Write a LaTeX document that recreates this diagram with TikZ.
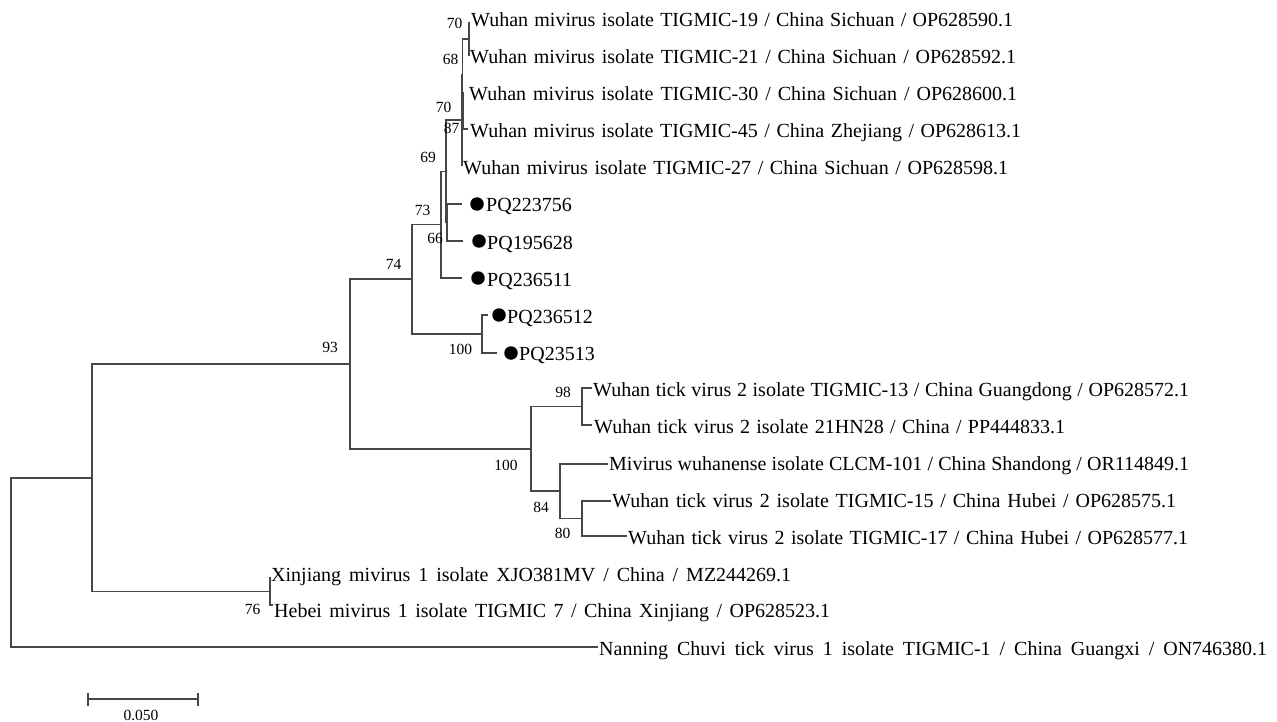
\documentclass[tikz,border=0pt]{standalone}
\usepackage{fontspec}
\setmainfont{Liberation Serif}
\begin{document}
\begin{tikzpicture}[x=1pt,y=-1pt,
  br/.style={line width=1.2pt, draw=black!72},
  leaf/.style={anchor=base west, inner sep=0pt, font=\fontsize{20}{24}\selectfont},
  bs/.style={inner sep=0pt, font=\fontsize{15.5}{18}\selectfont},
  tipdot/.style={circle, fill=black, inner sep=0pt, minimum size=13.5pt}]
\useasboundingbox (0,0) rectangle (1277,722);
% internal nodes
\coordinate (R) at (11,562.5);
\coordinate (A) at (92,478);
\coordinate (B) at (350,364);
\coordinate (C) at (270,591.5);
\coordinate (D) at (412,279);
\coordinate (E) at (531,449);
\coordinate (F) at (582,406.5);
\coordinate (G) at (560,491);
\coordinate (H) at (582,518.5);
\coordinate (J) at (482,334);
\coordinate (N73) at (441,224.5);
\coordinate (N69) at (446,171.5);
\coordinate (N66) at (447,222.5);
\coordinate (X) at (462,120);
\coordinate (Y) at (462.7,75);
\coordinate (Q) at (463.4,111);
\coordinate (N70) at (469,39);
% leaf ends
\coordinate (l1) at (469,22);
\coordinate (l2) at (469,56);
\coordinate (l3) at (464,93);
\coordinate (l4) at (468,129);
\coordinate (l5) at (463,165);
\coordinate (l6) at (462,204);
\coordinate (l7) at (463,241);
\coordinate (l8) at (462,278);
\coordinate (l9) at (488,315);
\coordinate (l10) at (497,353);
\coordinate (l11) at (592,388);
\coordinate (l12) at (592,425);
\coordinate (l13) at (608,464);
\coordinate (l14) at (611,501);
\coordinate (l15) at (627,536);
\coordinate (l16) at (271,578);
\coordinate (l17) at (273,605);
\coordinate (l18) at (598,647);
% branches
\draw[br] (R) |- (A); \draw[br] (R) |- (l18);
\draw[br] (A) |- (B); \draw[br] (A) |- (C);
\draw[br] (C) |- (l16); \draw[br] (C) |- (l17);
\draw[br] (B) |- (D); \draw[br] (B) |- (E);
\draw[br] (E) |- (F); \draw[br] (E) |- (G);
\draw[br] (F) |- (l11); \draw[br] (F) |- (l12);
\draw[br] (G) |- (l13); \draw[br] (G) |- (H);
\draw[br] (H) |- (l14); \draw[br] (H) |- (l15);
\draw[br] (D) |- (N73); \draw[br] (D) |- (J);
\draw[br] (J) |- (l9); \draw[br] (J) |- (l10);
\draw[br] (N73) |- (N69); \draw[br] (N73) |- (l8);
\draw[br] (N69) |- (X); \draw[br] (N69) |- (N66);
\draw[br] (N66) |- (l6); \draw[br] (N66) |- (l7);
\draw[br] (X) |- (Y); \draw[br] (X) |- (l5);
\draw[br] (Y) |- (N70); \draw[br] (Y) |- (Q);
\draw[br] (N70) |- (l1); \draw[br] (N70) |- (l2);
\draw[br] (Q) |- (l3); \draw[br] (Q) |- (l4);
% leaf labels
\node[leaf] (t1) at (471,27) {\makebox[542pt][s]{Wuhan mivirus isolate TIGMIC-19 / China Sichuan / OP628590.1}};
\node[leaf] (t2) at (470,64) {\makebox[546pt][s]{Wuhan mivirus isolate TIGMIC-21 / China Sichuan / OP628592.1}};
\node[leaf] (t3) at (469,101) {\makebox[548pt][s]{Wuhan mivirus isolate TIGMIC-30 / China Sichuan / OP628600.1}};
\node[leaf] (t4) at (470,138) {\makebox[551pt][s]{Wuhan mivirus isolate TIGMIC-45 / China Zhejiang / OP628613.1}};
\node[leaf] (t5) at (463,175) {\makebox[545pt][s]{Wuhan mivirus isolate TIGMIC-27 / China Sichuan / OP628598.1}};
\node[tipdot] (d6) at (477,204) {};
\node[leaf] (t6) at (486,212) {PQ223756};
\node[tipdot] (d7) at (479,241) {};
\node[leaf] (t7) at (487,249) {PQ195628};
\node[tipdot] (d8) at (478,278) {};
\node[leaf] (t8) at (487,286) {PQ236511};
\node[tipdot] (d9) at (499,315) {};
\node[leaf] (t9) at (507,323) {PQ236512};
\node[tipdot] (d10) at (511,353) {};
\node[leaf] (t10) at (519,360) {PQ23513};
\node[leaf] (t11) at (593,396.5) {\makebox[596pt][s]{Wuhan tick virus 2 isolate TIGMIC-13 / China Guangdong / OP628572.1}};
\node[leaf] (t12) at (594,433.5) {\makebox[471pt][s]{Wuhan tick virus 2 isolate 21HN28 / China / PP444833.1}};
\node[leaf] (t13) at (609,470.5) {\makebox[580pt][s]{Mivirus wuhanense isolate CLCM-101 / China Shandong / OR114849.1}};
\node[leaf] (t14) at (612,507.5) {\makebox[564pt][s]{Wuhan tick virus 2 isolate TIGMIC-15 / China Hubei / OP628575.1}};
\node[leaf] (t15) at (628,544.5) {\makebox[560pt][s]{Wuhan tick virus 2 isolate TIGMIC-17 / China Hubei / OP628577.1}};
\node[leaf] (t16) at (271,581.5) {\makebox[520pt][s]{Xinjiang mivirus 1 isolate XJO381MV / China / MZ244269.1}};
\node[leaf] (t17) at (274,617) {\makebox[556pt][s]{Hebei mivirus 1 isolate TIGMIC 7 / China Xinjiang / OP628523.1}};
\node[leaf] (t18) at (599,655) {\makebox[668pt][s]{Nanning Chuvi tick virus 1 isolate TIGMIC-1 / China Guangxi / ON746380.1}};
% bootstrap values
\node[bs] (b70a) at (454.5,23) {70};
\node[bs] (b68) at (450.5,59) {68};
\node[bs] (b70b) at (443.5,107) {70};
\node[bs] (b87) at (451.5,128) {87};
\node[bs] (b69) at (428,157) {69};
\node[bs] (b73) at (422.5,210) {73};
\node[bs] (b66) at (435,238) {66};
\node[bs] (b74) at (393.5,264) {74};
\node[bs] (b93) at (330,347.5) {93};
\node[bs] (b100a) at (460.5,349) {100};
\node[bs] (b98) at (563,392) {98};
\node[bs] (b100b) at (506,465) {100};
\node[bs] (b84) at (541,507) {84};
\node[bs] (b80) at (562.5,533) {80};
\node[bs] (b76) at (252.5,609) {76};
% scale bar
\coordinate (s1) at (88,699);
\coordinate (s2) at (198,699);
\coordinate (s1t) at (88,693);
\coordinate (s1b) at (88,706);
\coordinate (s2t) at (198,693);
\coordinate (s2b) at (198,706);
\draw[br] (s1) -- (s2);
\draw[br] (s1t) -- (s1b);
\draw[br] (s2t) -- (s2b);
\node[bs, anchor=base] (sl) at (141,720.5) {0.050};
\end{tikzpicture}
\end{document}
